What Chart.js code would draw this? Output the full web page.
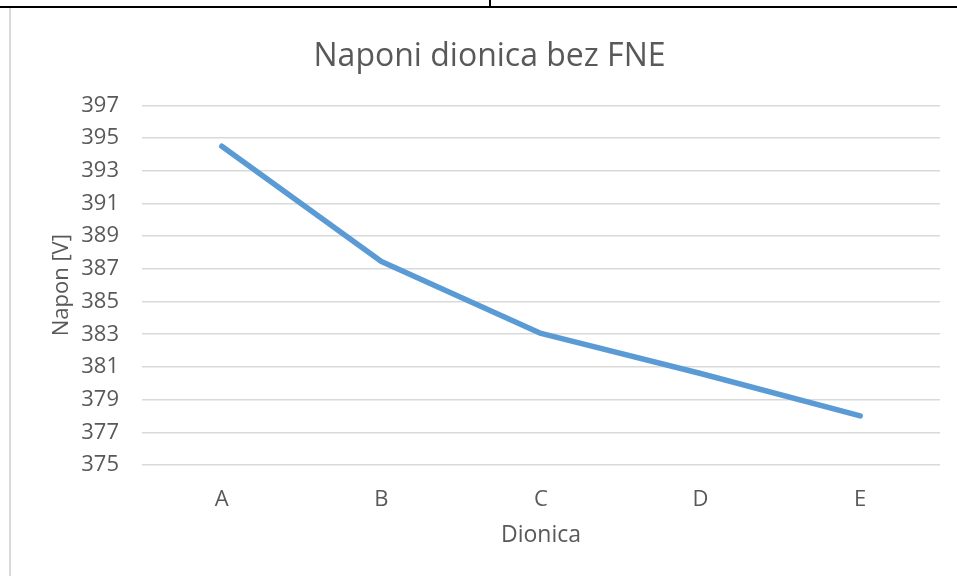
<!DOCTYPE html>
<html>
<head>
<meta charset="utf-8">
<script src="https://cdn.jsdelivr.net/npm/chart.js@4"></script>
<style>
  body { margin: 0; background: #fff; }
  #wrap { position: relative; width: 957px; height: 576px; overflow: hidden; }
  #chart-area1 { position: absolute; left: 0; top: 0; }
  .ln { position: absolute; }
</style>
</head>
<body>
<div id="wrap">
  <canvas id="chart-area1" width="957" height="576"></canvas>
  <div class="ln" style="left:8px;top:6px;width:949px;height:2px;background:#000"></div>
  <div class="ln" style="left:0;top:6px;width:9px;height:2px;background:#000"></div>
  <div class="ln" style="left:489px;top:0;width:2px;height:7px;background:#000"></div>
  <div class="ln" style="left:9px;top:8px;width:2px;height:568px;background:#d9d9d9"></div>
</div>
<script>
var dionice = ['A', 'B', 'C', 'D', 'E'];
var naponi = [394.5, 387.45, 383.05, 380.6, 378.0];
var yMin = 375, yMax = 397, yStep = 2;

var siva = '#595959';
var font = 'Open Sans';

function loadNaponi() {
  var config = {
    type: 'line',
    data: {
      labels: dionice,
      datasets: [{
        data: naponi,
        borderColor: '#5b9bd5',
        borderWidth: 5.5,
        borderCapStyle: 'round',
        borderJoinStyle: 'round',
        pointRadius: 0,
        tension: 0,
        fill: false
      }]
    },
    options: {
      responsive: false,
      animation: false,
      layout: { padding: { left: 39, right: 17, top: 0, bottom: 23 } },
      plugins: {
        legend: { display: false },
        tooltip: { enabled: false },
        title: {
          display: true,
          text: 'Naponi dionica bez FNE',
          color: siva,
          font: { family: font, size: 32, weight: 'normal' },
          padding: { top: 38, bottom: 29 }
        }
      },
      scales: {
        x: {
          offset: true,
          afterFit: function (scale) { scale.height = 88; },
          grid: { display: false, drawTicks: false },
          border: { display: false },
          ticks: { color: siva, font: { family: font, size: 22 }, padding: 22 },
          title: {
            display: true, text: 'Dionica', color: siva,
            font: { family: font, size: 23 },
            padding: { top: 11, bottom: 4 }
          }
        },
        y: {
          min: yMin,
          max: yMax,
          afterFit: function (scale) { scale.width = 103; },
          grid: { color: '#d9d9d9', lineWidth: 1.5, drawTicks: false },
          border: { display: false },
          ticks: { stepSize: yStep, color: siva, font: { family: font, size: 22 }, padding: 23 },
          title: {
            display: true, text: 'Napon [V]', color: siva,
            font: { family: font, size: 22 },
            padding: { top: 10, bottom: 0 }
          }
        }
      }
    }
  };
  var ctx = document.getElementById('chart-area1');
  window.naponChart = new Chart(ctx, config);
}
loadNaponi();
</script>
</body>
</html>
